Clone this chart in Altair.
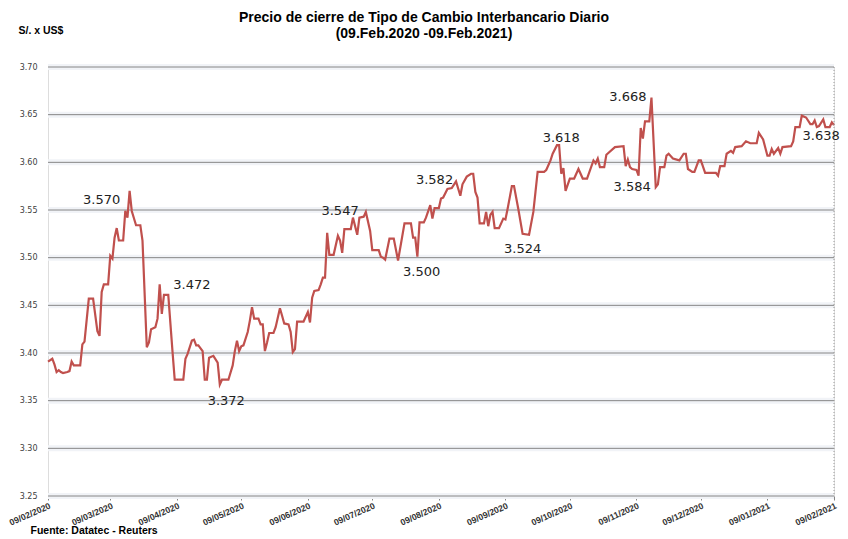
import altair as alt
import pandas as pd

fechas = [
    "2020-02-09", "2020-02-11", "2020-02-12", "2020-02-13", "2020-02-14", "2020-02-15", "2020-02-16",
    "2020-02-18", "2020-02-19", "2020-02-20", "2020-02-21", "2020-02-24", "2020-02-25", "2020-02-26",
    "2020-02-28", "2020-03-01", "2020-03-03", "2020-03-04", "2020-03-05", "2020-03-06", "2020-03-08",
    "2020-03-09", "2020-03-10", "2020-03-11", "2020-03-12", "2020-03-13", "2020-03-15", "2020-03-16",
    "2020-03-17", "2020-03-18", "2020-03-19", "2020-03-21", "2020-03-23", "2020-03-24", "2020-03-26",
    "2020-03-27", "2020-03-28", "2020-03-30", "2020-03-31", "2020-04-01", "2020-04-02", "2020-04-03",
    "2020-04-05", "2020-04-07", "2020-04-08", "2020-04-12", "2020-04-13", "2020-04-14", "2020-04-16",
    "2020-04-17", "2020-04-18", "2020-04-19", "2020-04-21", "2020-04-22", "2020-04-23", "2020-04-24",
    "2020-04-26", "2020-04-28", "2020-04-29", "2020-04-30", "2020-05-03", "2020-05-05", "2020-05-06",
    "2020-05-07", "2020-05-08", "2020-05-09", "2020-05-10", "2020-05-12", "2020-05-13", "2020-05-14",
    "2020-05-15", "2020-05-17", "2020-05-18", "2020-05-19", "2020-05-20", "2020-05-21", "2020-05-22",
    "2020-05-24", "2020-05-25", "2020-05-27", "2020-05-28", "2020-05-29", "2020-05-31", "2020-06-01",
    "2020-06-02", "2020-06-03", "2020-06-04", "2020-06-07", "2020-06-09", "2020-06-10", "2020-06-11",
    "2020-06-12", "2020-06-14", "2020-06-15", "2020-06-16", "2020-06-17", "2020-06-18", "2020-06-19",
    "2020-06-21", "2020-06-23", "2020-06-24", "2020-06-25", "2020-06-26", "2020-06-29", "2020-06-30",
    "2020-07-02", "2020-07-03", "2020-07-05", "2020-07-06", "2020-07-08", "2020-07-09", "2020-07-12",
    "2020-07-13", "2020-07-14", "2020-07-15", "2020-07-17", "2020-07-19", "2020-07-21", "2020-07-24",
    "2020-07-27", "2020-07-28", "2020-07-29", "2020-07-30", "2020-07-31", "2020-08-02", "2020-08-03",
    "2020-08-05", "2020-08-06", "2020-08-07", "2020-08-09", "2020-08-10", "2020-08-11", "2020-08-13",
    "2020-08-15", "2020-08-17", "2020-08-19", "2020-08-20", "2020-08-22", "2020-08-24", "2020-08-25",
    "2020-08-26", "2020-08-27", "2020-08-28", "2020-08-30", "2020-08-31", "2020-09-01", "2020-09-02",
    "2020-09-03", "2020-09-04", "2020-09-06", "2020-09-08", "2020-09-09", "2020-09-10", "2020-09-12",
    "2020-09-13", "2020-09-15", "2020-09-17", "2020-09-20", "2020-09-22", "2020-09-23", "2020-09-24",
    "2020-09-27", "2020-09-28", "2020-09-30", "2020-10-01", "2020-10-03", "2020-10-04", "2020-10-05",
    "2020-10-06", "2020-10-07", "2020-10-09", "2020-10-11", "2020-10-13", "2020-10-15", "2020-10-17",
    "2020-10-20", "2020-10-21", "2020-10-22", "2020-10-23", "2020-10-25", "2020-10-26", "2020-10-30",
    "2020-11-03", "2020-11-04", "2020-11-05", "2020-11-06", "2020-11-07", "2020-11-09", "2020-11-10",
    "2020-11-11", "2020-11-12", "2020-11-13", "2020-11-15", "2020-11-16", "2020-11-18", "2020-11-19",
    "2020-11-20", "2020-11-22", "2020-11-23", "2020-11-24", "2020-11-26", "2020-11-29", "2020-12-01",
    "2020-12-02", "2020-12-03", "2020-12-05", "2020-12-06", "2020-12-08", "2020-12-09", "2020-12-11",
    "2020-12-16", "2020-12-17", "2020-12-18", "2020-12-20", "2020-12-21", "2020-12-23", "2020-12-24",
    "2020-12-25", "2020-12-28", "2020-12-30", "2021-01-01", "2021-01-04", "2021-01-05", "2021-01-07",
    "2021-01-09", "2021-01-10", "2021-01-11", "2021-01-12", "2021-01-14", "2021-01-15", "2021-01-16",
    "2021-01-20", "2021-01-21", "2021-01-22", "2021-01-24", "2021-01-25", "2021-01-27", "2021-01-29",
    "2021-01-30", "2021-01-31", "2021-02-01", "2021-02-02", "2021-02-04", "2021-02-05", "2021-02-07",
    "2021-02-08", "2021-02-09",
]

tipo_cambio = [
    3.391, 3.394, 3.388, 3.380, 3.382, 3.380, 3.379,
    3.380, 3.381, 3.391, 3.387, 3.387, 3.409, 3.412,
    3.457, 3.457, 3.423, 3.418, 3.464, 3.472, 3.472,
    3.502, 3.499, 3.521, 3.531, 3.518, 3.518, 3.549,
    3.542, 3.570, 3.549, 3.534, 3.534, 3.518, 3.406,
    3.411, 3.425, 3.427, 3.436, 3.472, 3.441, 3.461,
    3.461, 3.401, 3.372, 3.372, 3.394, 3.399, 3.413,
    3.414, 3.408, 3.408, 3.402, 3.372, 3.372, 3.395,
    3.397, 3.390, 3.367, 3.372, 3.372, 3.387, 3.402,
    3.413, 3.402, 3.407, 3.408, 3.422, 3.434, 3.448,
    3.436, 3.436, 3.430, 3.430, 3.402, 3.411, 3.421,
    3.421, 3.427, 3.447, 3.439, 3.431, 3.430, 3.422,
    3.401, 3.404, 3.433, 3.433, 3.443, 3.432, 3.458,
    3.465, 3.466, 3.472, 3.479, 3.479, 3.526, 3.503,
    3.503, 3.523, 3.518, 3.505, 3.530, 3.530, 3.542,
    3.524, 3.542, 3.543, 3.548, 3.528, 3.508, 3.508,
    3.501, 3.500, 3.498, 3.520, 3.520, 3.497, 3.536,
    3.536, 3.521, 3.521, 3.501, 3.537, 3.537, 3.542,
    3.555, 3.541, 3.552, 3.552, 3.562, 3.563, 3.572,
    3.573, 3.580, 3.565, 3.577, 3.585, 3.588, 3.588,
    3.569, 3.563, 3.536, 3.536, 3.548, 3.533, 3.545,
    3.548, 3.531, 3.531, 3.541, 3.540, 3.551, 3.575,
    3.575, 3.551, 3.525, 3.524, 3.548, 3.569, 3.590,
    3.590, 3.592, 3.602, 3.609, 3.618, 3.618, 3.588,
    3.594, 3.570, 3.583, 3.583, 3.593, 3.583, 3.583,
    3.602, 3.599, 3.604, 3.595, 3.595, 3.608, 3.616,
    3.617, 3.596, 3.603, 3.595, 3.593, 3.592, 3.586,
    3.636, 3.625, 3.643, 3.643, 3.668, 3.574, 3.577,
    3.595, 3.595, 3.607, 3.609, 3.604, 3.602, 3.609,
    3.609, 3.593, 3.590, 3.590, 3.602, 3.602, 3.589,
    3.589, 3.586, 3.596, 3.596, 3.609, 3.612, 3.610,
    3.616, 3.617, 3.622, 3.620, 3.620, 3.631, 3.624,
    3.607, 3.607, 3.614, 3.609, 3.615, 3.609, 3.616,
    3.617, 3.622, 3.637, 3.637, 3.649, 3.647, 3.640,
    3.640, 3.644, 3.637, 3.638, 3.645, 3.637, 3.637,
    3.642, 3.639,
]

etiquetas = ["3.570", "3.472", "3.372", "3.547", "3.500", "3.582", "3.524", "3.618", "3.584", "3.668", "3.638"]
etiqueta_fechas = ["2020-03-05", "2020-04-16", "2020-05-02", "2020-06-24", "2020-08-01", "2020-08-07",
                   "2020-09-17", "2020-10-05", "2020-11-07", "2020-11-05", "2021-02-03"]
etiqueta_valores = [3.560, 3.471, 3.350, 3.549, 3.485, 3.581, 3.509, 3.626, 3.574, 3.669, 3.628]

y_marcas = [3.25, 3.30, 3.35, 3.40, 3.45, 3.50, 3.55, 3.60, 3.65, 3.70]
x_marcas = ["2020-02-09", "2020-03-09", "2020-04-09", "2020-05-09", "2020-06-09", "2020-07-09", "2020-08-09",
            "2020-09-09", "2020-10-09", "2020-11-09", "2020-12-09", "2021-01-09", "2021-02-09"]

df = pd.DataFrame({"fecha": fechas, "tc": tipo_cambio})
lab = pd.DataFrame({"fecha": etiqueta_fechas, "tc": etiqueta_valores, "texto": etiquetas})
grid = pd.DataFrame({"tc": y_marcas})
borde = pd.DataFrame({"fecha": [x_marcas[-1]]})

def ms(d):
    return int(pd.Timestamp(d, tz="UTC").value // 10**6)

x_vals = [ms(d) for d in x_marcas]
x_scale = alt.Scale(type="utc", domain=[x_vals[0], x_vals[-1]])
y_scale = alt.Scale(domain=[3.25, 3.70], nice=False, zero=False)

x_axis = alt.Axis(
    values=x_vals, format="%d/%m/%Y", labelAngle=-24, labelAlign="right", labelBaseline="top",
    labelFont="Liberation Sans", labelFontSize=8.8, labelFontWeight="bold", labelColor="#333333",
    labelPadding=1, grid=False, domain=False, ticks=True, tickSize=4, tickColor="#868686",
    title="Fuente: Datatec - Reuters", titleX=-18, titleY=37, titleAlign="left",
    titleBaseline="alphabetic", titleFont="Liberation Sans", titleFontSize=10.5,
    titleFontWeight="bold", titleColor="#000000", labelOverlap=False,
)
y_axis = alt.Axis(
    values=y_marcas, format=".2f", grid=False,
    domain=False, ticks=False, labelFont="DejaVu Sans", labelFontSize=8, labelColor="#404040",
    labelPadding=11, title="S/. x US$", titleAngle=0, titleX=-30, titleY=-34, titleAlign="left",
    titleBaseline="alphabetic", titleFont="Liberation Sans", titleFontSize=10.5,
    titleFontWeight="bold", titleColor="#000000",
)

X = alt.X("fecha:T", scale=x_scale, axis=x_axis)
Y = alt.Y("tc:Q", scale=y_scale, axis=y_axis)

sombra = alt.Chart(grid).mark_rule(color="#f1f3f7", strokeWidth=6).encode(y=Y)
rejilla = alt.Chart(grid).mark_rule(color="#868686", strokeWidth=1).encode(y=Y)

linea = alt.Chart(df).mark_line(color="#c0504d", strokeWidth=2.2).encode(x=X, y=Y)

borde_der = alt.Chart(borde).mark_rule(color="#999999", strokeDash=[1, 2], strokeWidth=1).encode(x=X)

textos = alt.Chart(lab).mark_text(font="DejaVu Sans", fontSize=13, color="#222222").encode(
    x=X, y=Y, text="texto:N",
)

chart = alt.layer(sombra, rejilla, linea, borde_der, textos).properties(
    width=786,
    height=429,
    padding={"left": 40, "top": 59, "right": 6, "bottom": 39},
    autosize=alt.AutoSizeParams(type="none"),
    title=alt.Title(
        ["Precio de cierre de Tipo de Cambio Interbancario Diario", "(09.Feb.2020 -09.Feb.2021)"],
        anchor="middle", font="Liberation Sans", fontSize=14, fontWeight="bold", lineHeight=16,
        offset=-16, dx=-17, color="#000000",
    ),
).configure_view(stroke=None).configure(background="white")

chart.save("out.html", embed_options={"renderer": "svg", "actions": False})
